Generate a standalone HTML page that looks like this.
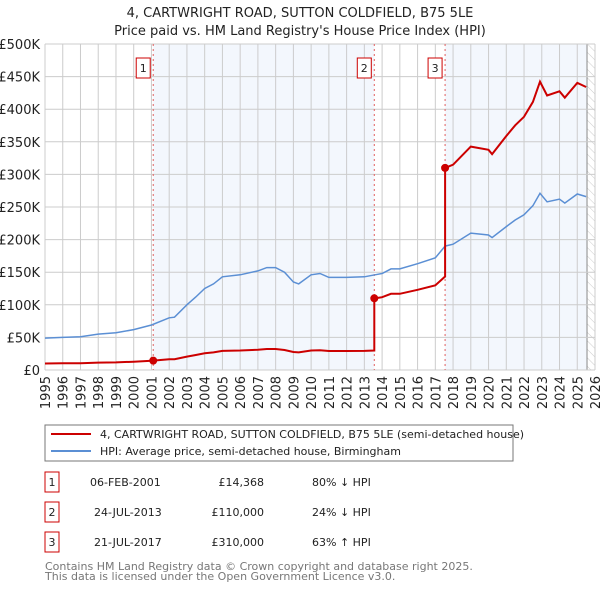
<!DOCTYPE html>
<html><head><meta charset="utf-8"><style>
body{margin:0;background:#fff;font-family:"DejaVu Sans","Liberation Sans",sans-serif;}
svg text{font-family:"DejaVu Sans","Liberation Sans",sans-serif;}
</style></head><body>
<svg id="c" width="600" height="590" xmlns="http://www.w3.org/2000/svg">
<defs><pattern id="hatch" width="6" height="6" patternUnits="userSpaceOnUse" patternTransform="rotate(-45)"><line x1="0" y1="0" x2="0" y2="6" stroke="#ccc" stroke-width="1"/></pattern></defs>
<text x="300" y="17" text-anchor="middle" font-size="13" fill="#222">4, CARTWRIGHT ROAD, SUTTON COLDFIELD, B75 5LE</text>
<text x="300" y="35" text-anchor="middle" font-size="13" fill="#222">Price paid vs. HM Land Registry's House Price Index (HPI)</text>
<g id="plot"></g>
<rect x="45" y="425" width="468" height="36" fill="#fff" stroke="#777"/>
<line x1="51" y1="434" x2="91" y2="434" stroke="#cc0000" stroke-width="2"/>
<text x="100" y="438" font-size="11" fill="#222">4, CARTWRIGHT ROAD, SUTTON COLDFIELD, B75 5LE (semi-detached house)</text>
<line x1="51" y1="451" x2="91" y2="451" stroke="#5b8fd4" stroke-width="2"/>
<text x="100" y="455" font-size="11" fill="#222">HPI: Average price, semi-detached house, Birmingham</text>
<g id="table" font-size="11" fill="#222"></g>
<text x="45" y="570" font-size="11" fill="#777">Contains HM Land Registry data © Crown copyright and database right 2025.</text>
<text x="45" y="580" font-size="11" fill="#777">This data is licensed under the Open Government Licence v3.0.</text>
</svg>
<script>
const hpiYears=[1995,1996,1997,1998,1999,2000,2001,2002,2002.3,2003,2003.5,2004,2004.5,2005,2006,2007,2007.5,2008,2008.5,2009,2009.3,2010,2010.5,2011,2012,2013,2013.6,2014,2014.5,2015,2016,2017,2017.55,2018,2019,2020,2020.2,2021,2021.5,2022,2022.5,2022.9,2023.3,2024,2024.3,2025,2025.5];
const hpiValues=[49000,50000,51000,55000,57000,62000,69000,80000,81000,100000,112000,125000,132000,143000,146000,152000,157000,157000,150000,135000,132000,146000,148000,142000,142000,143000,146000,148000,155000,155000,163000,172000,190000,193000,210000,207000,203000,220000,230000,238000,252000,271000,258000,262000,256000,270000,266000];
const saleYears=[2001.1,2013.56,2017.55];
const salePrices=[14368,110000,310000];
const saleDates=["06-FEB-2001","24-JUL-2013","21-JUL-2017"];
const salePriceLabels=["£14,368","£110,000","£310,000"];
const saleDiffs=["80% ↓ HPI","24% ↓ HPI","63% ↑ HPI"];
const yTicks=[0,50000,100000,150000,200000,250000,300000,350000,400000,450000,500000];
const yTickLabels=["£0","£50K","£100K","£150K","£200K","£250K","£300K","£350K","£400K","£450K","£500K"];
const xTicks=[1995,1996,1997,1998,1999,2000,2001,2002,2003,2004,2005,2006,2007,2008,2009,2010,2011,2012,2013,2014,2015,2016,2017,2018,2019,2020,2021,2022,2023,2024,2025,2026];

const L=45,R=595,T=44,B=370,X0=1995,X1=2026,YMAX=500000,DATA_END=2025.55;
const sx=v=>L+(v-X0)/(X1-X0)*(R-L);
const sy=v=>B-v/YMAX*(B-T);
const NS="http://www.w3.org/2000/svg";
const g=document.getElementById('plot');
function mk(tag,attrs,parent){const e=document.createElementNS(NS,tag);for(const k in attrs)e.setAttribute(k,attrs[k]);(parent||g).appendChild(e);return e;}
function hpiAt(t){for(let i=0;i<hpiYears.length-1;i++){if(t<=hpiYears[i+1]){const f=(t-hpiYears[i])/(hpiYears[i+1]-hpiYears[i]);return hpiValues[i]+f*(hpiValues[i+1]-hpiValues[i]);}}return hpiValues[hpiValues.length-1];}

let r=mk('rect',{x:L,y:T,width:R-L,height:B-T,fill:'#fff'});


// shaded ownership periods
[[saleYears[0],saleYears[1]],[saleYears[2],DATA_END]].forEach((p,i)=>{
 const s=mk('rect',{x:sx(p[0]),y:T,width:sx(p[1])-sx(p[0]),height:B-T,fill:'#eef3fc',opacity:0.7});
 
 
});
const h=mk('rect',{x:sx(DATA_END),y:T,width:R-sx(DATA_END),height:B-T,fill:'url(#hatch)'});


const hl=mk('line',{x1:sx(DATA_END),y1:T,x2:sx(DATA_END),y2:B,stroke:'#888'});


yTicks.forEach((v,i)=>{
 const l=mk('line',{x1:L,x2:R,y1:sy(v),y2:sy(v),stroke:'#ccc'});
 
 
 const t=mk('text',{x:L-5,y:sy(v)+5,'text-anchor':'end','font-size':13,fill:'#222'});
 t.textContent=yTickLabels[i];
 
 
});
xTicks.forEach(v=>{
 const l=mk('line',{x1:sx(v),x2:sx(v),y1:T,y2:B,stroke:'#ccc'});
 
 
 const t=mk('text',{x:0,y:0,'text-anchor':'end','font-size':13,fill:'#222',transform:`translate(${sx(v)+5},${B+6}) rotate(-90)`});
 t.textContent=v;
 
 
});
// sale vertical lines & labels
saleYears.forEach((s,i)=>{
 const l=mk('line',{x1:sx(s),x2:sx(s),y1:T,y2:B,stroke:'#e06060','stroke-dasharray':'2,3'});
 
 
 const b=mk('rect',{x:sx(s)-17,y:58,width:14,height:20,fill:'#fff',stroke:'#cc0000'});
 
 
 const t=mk('text',{x:sx(s)-10,y:72,'text-anchor':'middle','font-size':11,fill:'#222'});
 t.textContent=i+1;
 
 
});
// HPI line
let d=hpiYears.map((y,i)=>(i?'L':'M')+sx(y).toFixed(1)+','+sy(hpiValues[i]).toFixed(1)).join('');
const hp=mk('path',{d:d,fill:'none',stroke:'#5b8fd4','stroke-width':1.5});


// price line: indexed to HPI from each sale
function factorAt(t){let k=0;for(let i=0;i<saleYears.length;i++)if(t>=saleYears[i])k=i;return salePrices[k]/hpiAt(saleYears[k]);}
let pts=[];
const times=hpiYears.concat(saleYears).sort((a,b)=>a-b);
times.forEach(t=>{
 const si=saleYears.indexOf(t);
 if(si>0){pts.push([t,hpiAt(t)*salePrices[si-1]/hpiAt(saleYears[si-1])]);}
 pts.push([t,hpiAt(t)*factorAt(t)]);
});
d=pts.map((p,i)=>(i?'L':'M')+sx(p[0]).toFixed(1)+','+sy(p[1]).toFixed(1)).join('');
const pp=mk('path',{d:d,fill:'none',stroke:'#cc0000','stroke-width':2});


saleYears.forEach((s,i)=>{
 const c=mk('circle',{cx:sx(s),cy:sy(salePrices[i]),r:4,fill:'#cc0000'});
 
 
});
// table
const tb=document.getElementById('table');
saleYears.forEach((s,i)=>{
 const y=486+i*30;
 const b=mk('rect',{x:45,y:y-14,width:14,height:20,fill:'#fff',stroke:'#cc0000'},tb);
 
 
 const cells=[[52,'middle',String(i+1)],[90+(i?4:0),'start',saleDates[i]],[264,'end',salePriceLabels[i]],[312,'start',saleDiffs[i]]];
 cells.forEach((c,j)=>{
  const t=mk('text',{x:c[0],y:y,'text-anchor':c[1]},tb);
  t.textContent=c[2];
  
  
 });
});
</script>
</body></html>
